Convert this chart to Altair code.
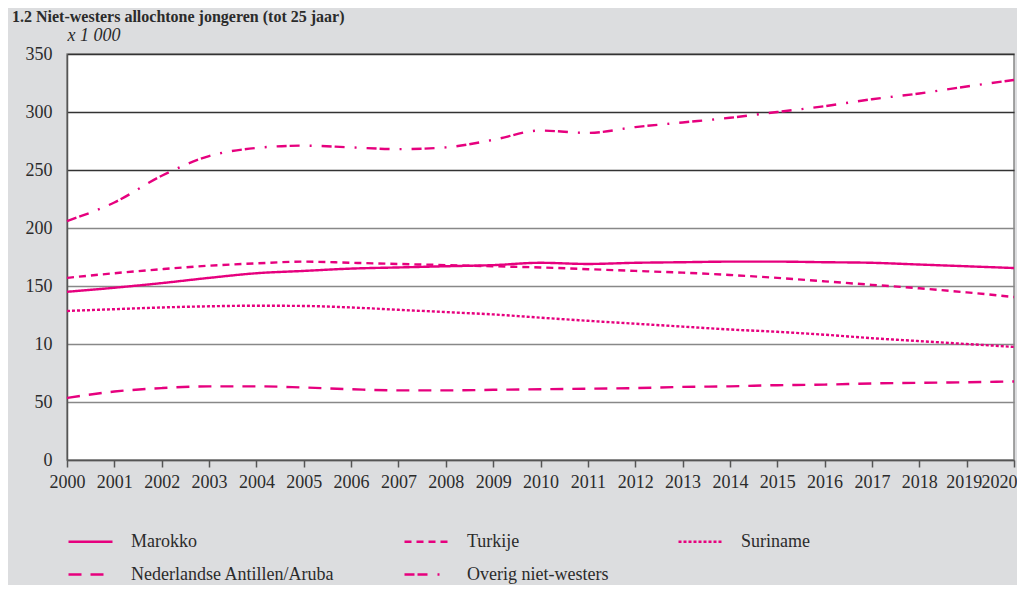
import altair as alt
import pandas as pd

years = list(range(2000, 2021))
series_names = ["Marokko", "Turkije", "Suriname", "Nederlandse Antillen/Aruba", "Overig niet-westers"]
marokko = [145, 148.5, 152.5, 157, 161, 163, 165, 166, 167, 168, 170, 169, 170, 170.5, 171, 171, 170.5, 170, 168.5, 167, 165.5]
turkije = [157, 161, 164.5, 167.5, 169.5, 171, 170, 169, 168, 167, 166, 164.5, 163, 161.5, 159.5, 157, 154, 151, 148, 144.5, 140.5]
suriname = [128.5, 130, 131.5, 132.5, 133, 132.8, 131.5, 129.5, 127.5, 125.5, 122.7, 120, 117.5, 115, 112.5, 110.5, 108, 105, 102.5, 100, 97.5]
antillen = [53.5, 59, 62, 63.5, 63.5, 62.5, 61, 60, 60, 60.5, 61, 61.5, 62, 63, 63.5, 64.5, 65, 66, 66.5, 67, 67.7]
overig = [206, 222, 245, 262, 269, 271, 269.5, 268, 269.5, 276, 284, 282, 287, 291, 295, 300, 305, 311, 316, 322, 327.6]
y_ticks = [0, 50, 100, 150, 200, 250, 300, 350]
title_text = "1.2  Niet-westers allochtone jongeren (tot 25 jaar)"
y_unit = "x 1 000"

rows = []
for name, vals in zip(series_names, [marokko, turkije, suriname, antillen, overig]):
    for yr, v in zip(years, vals):
        rows.append({"jaar": yr, "aantal": v, "groep": name})
df = pd.DataFrame(rows)

PINK = "#e6007e"
FONT = "'Liberation Serif', 'DejaVu Serif', serif"
dashes = [[1, 0], [7, 5], [3, 2], [13, 9], [10, 3, 10, 10, 2, 10]]

chart = alt.Chart(df).mark_line(
    strokeWidth=2.4, color=PINK, interpolate="monotone"
).encode(
    x=alt.X("jaar:Q",
            scale=alt.Scale(domain=[2000, 2020], nice=False, zero=False),
            axis=alt.Axis(values=years, format="d", title=None, grid=False,
                          labelOverlap=False, labelFlush=False, labelBound=False,
                          tickSize=7, tickColor="#555", tickWidth=1.5,
                          domainColor="#555", domainWidth=1.5,
                          labelPadding=6, labelFont=FONT, labelFontSize=18,
                          labelColor="#2b2b2b",
                          labelAlign={"condition": {"test": "datum.value == 2020", "value": "right"}, "value": "center"},
                          labelOffset={"condition": [
                              {"test": "datum.value == 2020", "value": 3},
                              {"test": "datum.value == 2019", "value": -3}],
                              "value": 0})),
    y=alt.Y("aantal:Q",
            scale=alt.Scale(domain=[0, 350], nice=False),
            axis=alt.Axis(values=y_ticks, title=y_unit, titleAngle=0, titleAlign="left",
                          titleX=0, titleY=-14, titleBaseline="alphabetic",
                          titleFont=FONT, titleFontSize=18, titleFontStyle="italic",
                          titleFontWeight="normal", titleColor="#2b2b2b",
                          labelExpr="datum.value == 100 ? '10' : datum.label",
                          ticks=False, labelPadding=15, labelFont=FONT, labelFontSize=18,
                          labelColor="#2b2b2b",
                          domainColor="#555", domainWidth=1.5,
                          grid=True, gridWidth=1.5,
                          gridColor={"condition": {"test": "datum.value >= 250", "value": "#333"}, "value": "#888"})),
    strokeDash=alt.StrokeDash("groep:N",
                              scale=alt.Scale(domain=series_names, range=dashes),
                              sort=series_names,
                              legend=alt.Legend(title=None, orient="none", legendX=0, legendY=464,
                                                direction="horizontal", columns=3, columnPadding=64,
                                                rowPadding=-4, symbolType="stroke", symbolSize=1936,
                                                symbolStrokeWidth=2.4, symbolStrokeColor=PINK,
                                                labelFont=FONT, labelFontSize=18, labelColor="#2b2b2b",
                                                labelOffset=17, labelLimit=400)),
).properties(
    width=947,
    height=406,
    padding={"left": 59, "top": 46, "right": 3, "bottom": 125},
    autosize=alt.AutoSizeParams(type="none"),
    title=alt.TitleParams(title_text, anchor="start", dx=-13, dy=19, offset=4, baseline="bottom",
                          font=FONT, fontSize=16, fontWeight="bold", color="#2b2b2b"),
).configure(
    background="#dcdddf",
).configure_view(
    fill="white", stroke="#888", strokeWidth=1.5
)

chart.save("out.html", embed_options={"renderer": "svg", "actions": False})
